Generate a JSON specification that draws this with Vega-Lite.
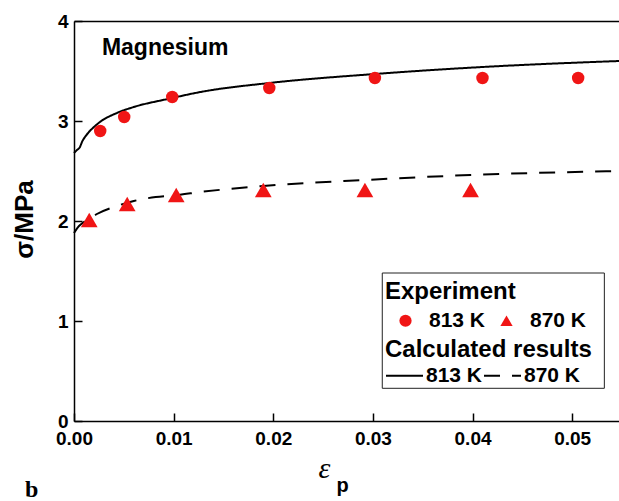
{
  "$schema": "https://vega.github.io/schema/vega-lite/v6.json",
  "width": 545,
  "height": 400,
  "autosize": "none",
  "padding": {"left": 74, "top": 21, "right": 0, "bottom": 80},
  "background": "white",
  "title": {"text": "b", "orient": "bottom", "anchor": "start", "frame": "bounds", "font": "Liberation Serif", "fontSize": 24, "fontWeight": "bold", "color": "black", "offset": -17, "dx": 14},
  "config": {
    "view": {"stroke": null},
    "axis": {"grid": false, "domainColor": "black", "domainWidth": 1.5, "tickColor": "black", "tickWidth": 1.5, "labelColor": "black", "labelFont": "Liberation Sans", "labelFontWeight": "bold", "labelFontSize": 19, "labelFlush": false, "labelOverlap": false, "labelBound": false, "titleColor": "black"},
    "legend": {"titleFont": "Liberation Sans", "titleFontSize": 24, "titleFontWeight": "bold", "titleColor": "black", "labelFont": "Liberation Sans", "labelFontSize": 21, "labelFontWeight": "bold", "labelColor": "black", "padding": 0, "titleLimit": 400, "labelLimit": 200}
  },
  "datasets": {
    "exp": [
      {"x": 0.00263, "y": 2.90, "exp": "813 K"},
      {"x": 0.00504, "y": 3.04, "exp": "813 K"},
      {"x": 0.00986, "y": 3.24, "exp": "813 K"},
      {"x": 0.0196, "y": 3.33, "exp": "813 K"},
      {"x": 0.0302, "y": 3.43, "exp": "813 K"},
      {"x": 0.0410, "y": 3.43, "exp": "813 K"},
      {"x": 0.0506, "y": 3.43, "exp": "813 K"},
      {"x": 0.00153, "y": 2.01, "exp": "870 K"},
      {"x": 0.00534, "y": 2.17, "exp": "870 K"},
      {"x": 0.01026, "y": 2.26, "exp": "870 K"},
      {"x": 0.0190, "y": 2.31, "exp": "870 K"},
      {"x": 0.0292, "y": 2.31, "exp": "870 K"},
      {"x": 0.0398, "y": 2.31, "exp": "870 K"}
    ],
    "calc": [
      {"x": 0.0, "y": 2.68, "calc": "calc 813 K"},
      {"x": 0.0003, "y": 2.71, "calc": "calc 813 K"},
      {"x": 0.0006, "y": 2.74, "calc": "calc 813 K"},
      {"x": 0.0008, "y": 2.79, "calc": "calc 813 K"},
      {"x": 0.0011, "y": 2.84, "calc": "calc 813 K"},
      {"x": 0.0015, "y": 2.89, "calc": "calc 813 K"},
      {"x": 0.002, "y": 2.94, "calc": "calc 813 K"},
      {"x": 0.0026, "y": 2.99, "calc": "calc 813 K"},
      {"x": 0.0043, "y": 3.08, "calc": "calc 813 K"},
      {"x": 0.006, "y": 3.14, "calc": "calc 813 K"},
      {"x": 0.0094, "y": 3.22, "calc": "calc 813 K"},
      {"x": 0.0127, "y": 3.29, "calc": "calc 813 K"},
      {"x": 0.0196, "y": 3.38, "calc": "calc 813 K"},
      {"x": 0.0302, "y": 3.47, "calc": "calc 813 K"},
      {"x": 0.0410, "y": 3.54, "calc": "calc 813 K"},
      {"x": 0.0547, "y": 3.60, "calc": "calc 813 K"},
      {"x": 0.0, "y": 1.88, "calc": "calc 870 K"},
      {"x": 0.0005, "y": 1.95, "calc": "calc 870 K"},
      {"x": 0.001, "y": 1.99, "calc": "calc 870 K"},
      {"x": 0.0015, "y": 2.02, "calc": "calc 870 K"},
      {"x": 0.0023, "y": 2.07, "calc": "calc 870 K"},
      {"x": 0.004, "y": 2.14, "calc": "calc 870 K"},
      {"x": 0.006, "y": 2.20, "calc": "calc 870 K"},
      {"x": 0.0082, "y": 2.24, "calc": "calc 870 K"},
      {"x": 0.0104, "y": 2.26, "calc": "calc 870 K"},
      {"x": 0.0127, "y": 2.29, "calc": "calc 870 K"},
      {"x": 0.019, "y": 2.35, "calc": "calc 870 K"},
      {"x": 0.0292, "y": 2.41, "calc": "calc 870 K"},
      {"x": 0.0398, "y": 2.46, "calc": "calc 870 K"},
      {"x": 0.0547, "y": 2.50, "calc": "calc 870 K"}
    ]
  },
  "layer": [
    {
      "data": {"values": [{}]},
      "mark": {"type": "rect", "fill": "white", "stroke": "#222222", "strokeWidth": 1},
      "encoding": {
        "x": {"datum": 0.03094, "type": "quantitative", "axis": null},
        "x2": {"datum": 0.05323},
        "y": {"datum": 1.48, "type": "quantitative", "axis": {"values": [0, 1, 2, 3, 4], "format": "d", "tickSize": -8, "labelPadding": 14, "title": "σ/MPa", "titleFont": "Liberation Sans", "titleFontSize": 26, "titleFontWeight": "bold", "titleBaseline": "alphabetic", "titleX": -42, "titleY": 198, "titleAngle": -90, "titleAlign": "center"}},
        "y2": {"datum": 0.327}
      }
    },
    {
      "data": {"name": "calc"},
      "mark": {"type": "line", "color": "black", "strokeWidth": 2, "interpolate": "monotone"},
      "encoding": {
        "x": {"field": "x", "type": "quantitative", "axis": {"orient": "top", "ticks": false, "labels": false, "domain": true, "title": "p", "titleFont": "Liberation Sans", "titleFontSize": 20, "titleFontWeight": "bold", "titleAlign": "left", "titleBaseline": "alphabetic", "titleX": 262, "titleY": 470, "titleAngle": 0}},
        "y": {"field": "y", "type": "quantitative", "axis": {"values": [0, 1, 2, 3, 4], "format": "d", "tickSize": -8, "labelPadding": 14, "title": "σ/MPa", "titleFont": "Liberation Sans", "titleFontSize": 26, "titleFontWeight": "bold", "titleBaseline": "alphabetic", "titleX": -42, "titleY": 198, "titleAngle": -90, "titleAlign": "center"}},
        "strokeDash": {"field": "calc", "type": "nominal", "scale": {"domain": ["calc 813 K", "calc 870 K"], "range": [[1, 0], [16, 12]]},
          "legend": {"title": "Calculated results", "labelExpr": "replace(datum.label, 'calc ', '')", "orient": "none", "legendX": 311, "legendY": 317, "direction": "horizontal", "symbolType": "stroke", "symbolSize": 1369, "symbolStrokeWidth": 2, "symbolStrokeColor": "black", "labelOffset": 2, "columnPadding": -5, "titlePadding": -6}}
      }
    },
    {
      "data": {"name": "exp"},
      "transform": [{"filter": "datum.exp == '813 K'"}],
      "mark": {"type": "point", "filled": true, "color": "#f01515", "opacity": 1, "size": 155},
      "encoding": {
        "x": {"field": "x", "type": "quantitative", "scale": {"domain": [0, 0.0547], "nice": false, "zero": false},
          "axis": {"orient": "bottom", "values": [0, 0.01, 0.02, 0.03, 0.04, 0.05], "format": ".2f", "tickSize": -8, "labelPadding": 16, "title": "ε", "titleFont": "Liberation Serif", "titleFontStyle": "italic", "titleFontWeight": "normal", "titleFontSize": 30, "titleAlign": "center", "titleBaseline": "alphabetic", "titleX": 250, "titleY": 56}},
        "y": {"field": "y", "type": "quantitative", "scale": {"domain": [0, 4], "nice": false},
          "axis": {"values": [0, 1, 2, 3, 4], "format": "d", "tickSize": -8, "labelPadding": 14, "title": "σ/MPa", "titleFont": "Liberation Sans", "titleFontSize": 26, "titleFontWeight": "bold", "titleBaseline": "alphabetic", "titleX": -42, "titleY": 198, "titleAngle": -90, "titleAlign": "center"}},
        "shape": {"field": "exp", "type": "nominal", "scale": {"domain": ["813 K", "870 K"], "range": ["circle", "triangle-up"]},
          "legend": {"title": "Experiment", "orient": "none", "legendX": 311, "legendY": 259, "direction": "horizontal", "symbolSize": 150, "symbolFillColor": "#f01515", "symbolStrokeColor": "#f01515", "symbolStrokeWidth": 0, "symbolOffset": 10, "labelOffset": 13, "columnPadding": -6, "titlePadding": 6}}
      }
    },
    {
      "data": {"name": "exp"},
      "transform": [{"filter": "datum.exp == '870 K'"}],
      "mark": {"type": "point", "filled": true, "color": "#f01515", "opacity": 1, "size": 280},
      "encoding": {
        "x": {"field": "x", "type": "quantitative", "axis": null},
        "y": {"field": "y", "type": "quantitative", "axis": {"values": [0, 1, 2, 3, 4], "format": "d", "tickSize": -8, "labelPadding": 14, "title": "σ/MPa", "titleFont": "Liberation Sans", "titleFontSize": 26, "titleFontWeight": "bold", "titleBaseline": "alphabetic", "titleX": -42, "titleY": 198, "titleAngle": -90, "titleAlign": "center"}},
        "shape": {"field": "exp", "type": "nominal", "scale": {"domain": ["813 K", "870 K"], "range": ["circle", "triangle-up"]},
          "legend": {"title": "Experiment", "orient": "none", "legendX": 311, "legendY": 259, "direction": "horizontal", "symbolSize": 150, "symbolFillColor": "#f01515", "symbolStrokeColor": "#f01515", "symbolStrokeWidth": 0, "symbolOffset": 10, "labelOffset": 13, "columnPadding": -6, "titlePadding": 6}}
      }
    },
    {
      "data": {"values": [{}]},
      "mark": {"type": "text", "text": "Magnesium", "align": "left", "baseline": "alphabetic", "font": "Liberation Sans", "fontSize": 23, "fontWeight": "bold", "color": "black"},
      "encoding": {
        "x": {"datum": 0.0028, "type": "quantitative", "axis": null},
        "y": {"datum": 3.657, "type": "quantitative", "axis": {"values": [0, 1, 2, 3, 4], "format": "d", "tickSize": -8, "labelPadding": 14, "title": "σ/MPa", "titleFont": "Liberation Sans", "titleFontSize": 26, "titleFontWeight": "bold", "titleBaseline": "alphabetic", "titleX": -42, "titleY": 198, "titleAngle": -90, "titleAlign": "center"}}
      }
    }
  ],
  "resolve": {"axis": {"x": "independent"}}
}
